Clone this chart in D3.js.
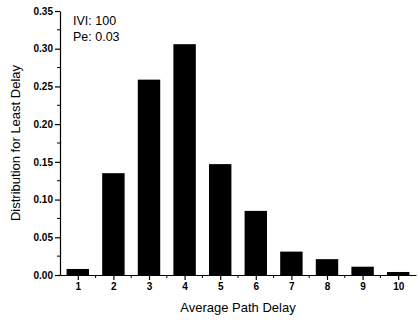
<!DOCTYPE html>
<html>
<head>
<meta charset="utf-8">
<script src="https://cdn.jsdelivr.net/npm/d3@7"></script>
<style>
  body { margin: 0; background: #fff; }
  text { font-family: "Liberation Sans", Arial, sans-serif; }
</style>
</head>
<body>
<div id="chart"></div>
<script>
// Data
const delays = [1, 2, 3, 4, 5, 6, 7, 8, 9, 10]
const distribution = [0.008, 0.135, 0.259, 0.306, 0.147, 0.085, 0.031, 0.021, 0.011, 0.004]
const yTicks = [0, 0.05, 0.10, 0.15, 0.20, 0.25, 0.30, 0.35]
const annotation = ['IVI: 100', 'Pe: 0.03']

// Dimensions
const width = 418, height = 321
const margin = { top: 11, right: 2, bottom: 46, left: 60 }
const ctrWidth = width - margin.left - margin.right
const ctrHeight = height - margin.top - margin.bottom

const svg = d3.select('#chart').append('svg')
  .attr('width', width)
  .attr('height', height)

const ctr = svg.append('g')
  .attr('transform', `translate(${margin.left},${margin.top})`)

// Scales
const xScale = d3.scaleLinear().domain([0.5, 10.5]).range([0, ctrWidth])
const yScale = d3.scaleLinear().domain([0, 0.35]).range([ctrHeight, 0])
const step = xScale(2) - xScale(1)
const barWidth = step * 0.63

// Bars
ctr.selectAll('rect.bar')
  .data(delays)
  .join('rect')
  .attr('class', 'bar')
  .attr('x', (d) => xScale(d) - barWidth / 2)
  .attr('y', (d, i) => yScale(distribution[i]))
  .attr('width', barWidth)
  .attr('height', (d, i) => ctrHeight - yScale(distribution[i]))
  .attr('fill', '#000')

// Axes
const yAxis = d3.axisLeft(yScale)
  .tickValues(yTicks)
  .tickFormat(d3.format('.2f'))
  .tickSize(5)
  .tickPadding(2)
  .tickSizeOuter(0)
const yAxisGroup = ctr.append('g').call(yAxis)

// minor y ticks
ctr.append('g').selectAll('line')
  .data(d3.range(0.025, 0.35, 0.05))
  .join('line')
  .attr('x1', -3).attr('x2', 0)
  .attr('y1', (d) => yScale(d)).attr('y2', (d) => yScale(d))
  .attr('stroke', '#000')

const xAxis = d3.axisBottom(xScale)
  .tickValues(delays)
  .tickFormat(d3.format('d'))
  .tickSize(5)
  .tickSizeOuter(0)
const xAxisGroup = ctr.append('g')
  .attr('transform', `translate(0,${ctrHeight})`)
  .call(xAxis)

// minor x ticks
ctr.append('g').selectAll('line')
  .data(d3.range(1.5, 10.5, 1))
  .join('line')
  .attr('x1', (d) => xScale(d)).attr('x2', (d) => xScale(d))
  .attr('y1', ctrHeight).attr('y2', ctrHeight + 3)
  .attr('stroke', '#000')

svg.selectAll('.domain').attr('stroke', '#000').attr('stroke-width', 1.2)
svg.selectAll('.tick line').attr('stroke', '#000').attr('stroke-width', 1.2)
svg.selectAll('.tick text')
  .attr('fill', '#000')
  .style('font-size', '10px')
  .style('font-weight', 'bold')
  .style('font-family', '"Liberation Sans", Arial, sans-serif')

// Annotation
ctr.append('g').selectAll('text')
  .data(annotation)
  .join('text')
  .attr('x', 13)
  .attr('y', (d, i) => 14 + i * 16)
  .style('font-size', '12.5px')
  .text((d) => d)

// Axis titles
svg.append('text')
  .attr('x', margin.left + ctrWidth / 2)
  .attr('y', 312)
  .attr('text-anchor', 'middle')
  .style('font-size', '13px')
  .text('Average Path Delay')

svg.append('text')
  .attr('transform', `translate(20,${margin.top + ctrHeight / 2}) rotate(-90)`)
  .attr('text-anchor', 'middle')
  .style('font-size', '13px')
  .text('Distribution for Least Delay')
</script>
</body>
</html>
